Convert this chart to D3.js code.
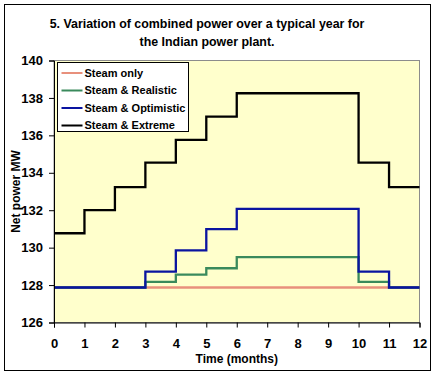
<!DOCTYPE html>
<html>
<head>
<meta charset="utf-8">
<script src="https://cdn.jsdelivr.net/npm/d3@7"></script>
<style>
  body { margin: 0; background: #fff; }
  svg { display: block; font-family: "Liberation Sans", Arial, sans-serif; }
</style>
</head>
<body>
<div id="chart"></div>
<script>
// month boundaries 0..12, value holds until next boundary
const months = [0, 1, 2, 3, 4, 5, 6, 7, 8, 9, 10, 11, 12];
const steamOnly = [127.87, 127.87, 127.87, 127.87, 127.87, 127.87, 127.87, 127.87, 127.87, 127.87, 127.87, 127.87, 127.87];
const steamRealistic = [127.87, 127.87, 127.87, 128.17, 128.56, 128.9, 129.49, 129.49, 129.49, 129.49, 128.17, 127.87, 127.87];
const steamOptimistic = [127.87, 127.87, 127.87, 128.72, 129.85, 130.99, 132.07, 132.07, 132.07, 132.07, 128.72, 127.87, 127.87];
const steamExtreme = [130.77, 132.0, 133.23, 134.54, 135.76, 137.0, 138.25, 138.25, 138.25, 138.25, 134.54, 133.23, 133.23];
const seriesNames = ["Steam only", "Steam & Realistic", "Steam & Optimistic", "Steam & Extreme"];
const seriesColors = ["#e8907c", "#3a8a5c", "#0a14a0", "#000000"];
const yTicks = [126, 128, 130, 132, 134, 136, 138, 140];

const width = 435;
const height = 375;
const marginTop = 60.5;
const marginRight = 15.5;
const marginBottom = 52.5;
const marginLeft = 54;

const allSeries = [steamOnly, steamRealistic, steamOptimistic, steamExtreme];

const svg = d3.select("#chart")
  .append("svg")
  .attr("width", width)
  .attr("height", height);

// outer chart border
svg.append("rect")
  .attr("x", 4.5).attr("y", 4.5)
  .attr("width", 426).attr("height", 366)
  .attr("fill", "#fff")
  .attr("stroke", "#000");

const x = d3.scaleLinear()
  .domain([0, 12])
  .range([marginLeft, width - marginRight]);

const y = d3.scaleLinear()
  .domain([126, 140])
  .range([height - marginBottom, marginTop]);

// plot area
svg.append("rect")
  .attr("x", x(0)).attr("y", y(140))
  .attr("width", x(12) - x(0)).attr("height", y(126) - y(140))
  .attr("fill", "#ffffcc")
  .attr("stroke", "#8c8c8c");

// title
svg.append("g")
  .attr("text-anchor", "middle")
  .attr("font-weight", "bold")
  .attr("font-size", 12.4)
  .selectAll("text")
  .data(["5. Variation of combined power over a typical year for", "the Indian power plant."])
  .join("text")
  .attr("x", 207)
  .attr("y", (d, i) => 28 + i * 18)
  .text(d => d);

// lines
const line = d3.line()
  .x((d, i) => x(months[i]))
  .y(d => y(d))
  .curve(d3.curveStepAfter);

svg.append("g")
  .selectAll("path")
  .data(allSeries)
  .join("path")
  .attr("fill", "none")
  .attr("stroke", (d, i) => seriesColors[i])
  .attr("stroke-width", 2.3)
  .attr("d", line);

// axes
svg.append("g")
  .attr("transform", `translate(0,${y(126)})`)
  .call(d3.axisBottom(x).tickValues(months).tickFormat(d3.format("d")).tickSizeOuter(0).tickSize(5).tickPadding(11))
  .call(g => g.selectAll("text").attr("font-size", 13).attr("font-weight", "bold").attr("fill", "#000").attr("font-family", "Liberation Sans, Arial, sans-serif"));

svg.append("g")
  .attr("transform", `translate(${x(0)},0)`)
  .call(d3.axisLeft(y).tickValues(yTicks).tickSizeOuter(0).tickSize(5).tickPadding(6))
  .call(g => g.selectAll("text").attr("font-size", 13).attr("font-weight", "bold").attr("fill", "#000").attr("font-family", "Liberation Sans, Arial, sans-serif"));

// axis titles
svg.append("text")
  .attr("x", x(6))
  .attr("y", 363)
  .attr("text-anchor", "middle")
  .attr("font-size", 12)
  .attr("font-weight", "bold")
  .text("Time (months)");

svg.append("text")
  .attr("transform", `translate(20,${(y(126) + y(140)) / 2}) rotate(-90)`)
  .attr("text-anchor", "middle")
  .attr("font-size", 12)
  .attr("font-weight", "bold")
  .text("Net power MW");

// legend
const legend = svg.append("g").attr("transform", "translate(57.5,62.5)");
legend.append("rect")
  .attr("width", 131).attr("height", 69)
  .attr("fill", "#fff")
  .attr("stroke", "#000");

const item = legend.selectAll("g")
  .data(seriesNames)
  .join("g")
  .attr("transform", (d, i) => `translate(0,${10.5 + i * 17.5})`);

item.append("line")
  .attr("x1", 4).attr("x2", 25)
  .attr("stroke", (d, i) => seriesColors[i])
  .attr("stroke-width", 2);

item.append("text")
  .attr("x", 27)
  .attr("dy", "0.35em")
  .attr("font-size", 11)
  .attr("font-weight", "bold")
  .text(d => d);
</script>
</body>
</html>
